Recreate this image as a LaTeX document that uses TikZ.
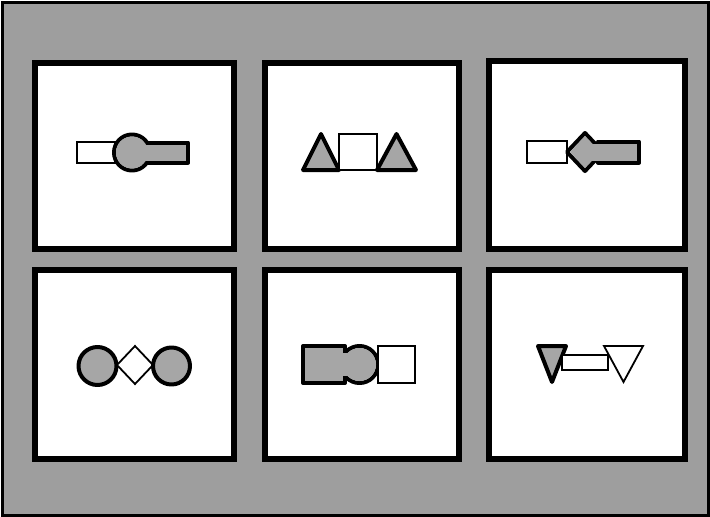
\documentclass[tikz,border=0pt]{standalone}
\begin{document}
\begin{tikzpicture}[x=1pt,y=-1pt,
  bgfill/.style={fill=black!38},
  frame/.style={draw=black,line width=3pt},
  panel/.style={draw=black,fill=white,line width=6.5pt},
  gline/.style={draw=black,line width=4pt,line join=round},
  gfill/.style={fill=black!35},
  wshape/.style={draw=black,fill=white,line width=1.8pt,line join=miter}]
\useasboundingbox (0,0) rectangle (710,517);
% background and outer frame
\draw[frame,bgfill] (2,2) rectangle (708,515);
% panels
\draw[panel] (35,63) rectangle (234,249);
\draw[panel] (265,63) rectangle (459,249);
\draw[panel] (489,61) rectangle (685,249);
\draw[panel] (35,270) rectangle (234,459);
\draw[panel] (265,270) rectangle (459,459);
\draw[panel] (489,270) rectangle (685,459);
% panel 1: rect - circle - bar
\draw[wshape] (77,142) rectangle (115,163);
\draw[gline] (132,152.5) circle (18);
\draw[gline] (132,142.5) rectangle (188,162.5);
\fill[gfill] (132,152.5) circle (16);
\fill[gfill] (132,144.5) rectangle (186,160.5);
% panel 2: triangle - square - triangle
\draw[gline,gfill] (303,170) -- (321,134) -- (339,170) -- cycle;
\draw[wshape] (339,134) rectangle (377,170);
\draw[gline,gfill] (377,170) -- (396.5,134) -- (416,170) -- cycle;
% panel 3: rect - diamond - bar
\draw[wshape] (527,141) rectangle (567,163);
\draw[gline] (567,152) -- (585,133) -- (603,152) -- (585,171) -- cycle;
\draw[gline] (598,141.5) rectangle (639,162.5);
\fill[gfill] (569.8,152) -- (585,136) -- (600.2,152) -- (585,168) -- cycle;
\fill[gfill] (585,143.5) rectangle (637,160.5);
% panel 4: circle - diamond - circle
\draw[gline,gfill] (97.5,366) circle (19);
\draw[wshape] (117,365) -- (135,346) -- (153,365) -- (135,384) -- cycle;
\draw[gline,gfill] (171.5,366) circle (18.5);
% panel 5: block - circle - square
\draw[gline] (303,346) rectangle (345,383);
\draw[gline] (359.5,364.5) circle (18.5);
\fill[gfill] (305,348) rectangle (343,381);
\fill[gfill] (359.5,364.5) circle (16.5);
\fill[gfill] (330,353) rectangle (362,376);
\draw[wshape] (378,346) rectangle (415,383);
% panel 6: triangle - bar - triangle
\draw[gline,gfill] (538,346) -- (566,346) -- (552,382) -- cycle;
\draw[wshape] (562,355) rectangle (608,370);
\draw[wshape] (604,346) -- (643,346) -- (623.5,382) -- cycle;
\end{tikzpicture}
\end{document}
